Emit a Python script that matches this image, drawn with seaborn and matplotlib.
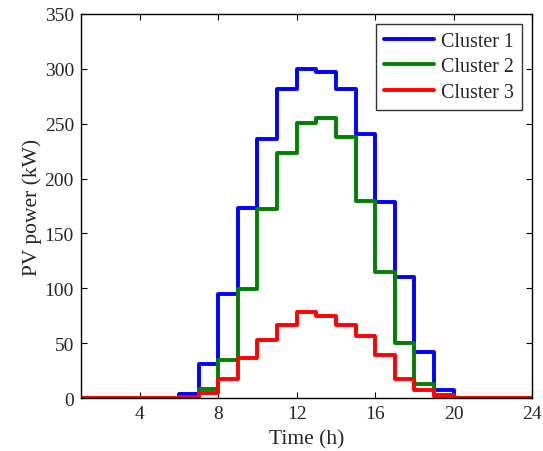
import seaborn as sns
import matplotlib.pyplot as plt
import numpy as np
import pandas as pd

hours = list(range(1, 25))
cluster1 = [0, 0, 0, 0, 0, 4, 31, 95, 173, 236, 282, 300,
            297, 282, 241, 179, 110, 42, 7, 0, 0, 0, 0, 0]
cluster2 = [0, 0, 0, 0, 0, 0, 8, 35, 99, 172, 223, 251,
            255, 238, 180, 115, 50, 13, 3, 0, 0, 0, 0, 0]
cluster3 = [0, 0, 0, 0, 0, 1, 5, 17, 37, 53, 67, 78,
            75, 67, 57, 39, 17, 7, 2, 0, 0, 0, 0, 0]
labels = ['Cluster 1', 'Cluster 2', 'Cluster 3']
colors = ['#0000ff', '#008000', '#ff0000']

df = pd.DataFrame({'hour': hours * 3,
                   'power': cluster1 + cluster2 + cluster3,
                   'cluster': [l for l in labels for _ in hours]})

sns.set_theme(style='ticks')
plt.rcParams['font.family'] = ['Liberation Serif', 'DejaVu Serif']
plt.rcParams['xtick.direction'] = 'in'
plt.rcParams['ytick.direction'] = 'in'

fig = plt.figure(figsize=(5.43, 4.52), dpi=100)
ax = fig.add_axes([0.149, 0.117, 0.831, 0.850])
sns.lineplot(data=df, x='hour', y='power', hue='cluster', palette=colors,
             drawstyle='steps-post', linewidth=2.8, ax=ax)

ax.set_xlim(1, 24)
ax.set_ylim(0, 350)
ax.set_xticks([4, 8, 12, 16, 20, 24])
ax.set_yticks(range(0, 351, 50))
ax.tick_params(labelsize=14, top=True, right=True, length=4, width=0.8,
               color='black', pad=5)
for s in ax.spines.values():
    s.set_linewidth(1)
    s.set_color('black')
ax.set_xlabel('Time (h)', fontsize=15.5, labelpad=5)
ax.set_ylabel('PV power (kW)', fontsize=15.5, labelpad=2)

leg = ax.legend(loc='upper right', fontsize=14.4, frameon=True, fancybox=False,
                edgecolor='black', handlelength=2.5, borderaxespad=0.5,
                labelspacing=0.32, handletextpad=0.35, borderpad=0.4)
leg.get_frame().set_linewidth(1)

fig.savefig('out.png', dpi=100)
